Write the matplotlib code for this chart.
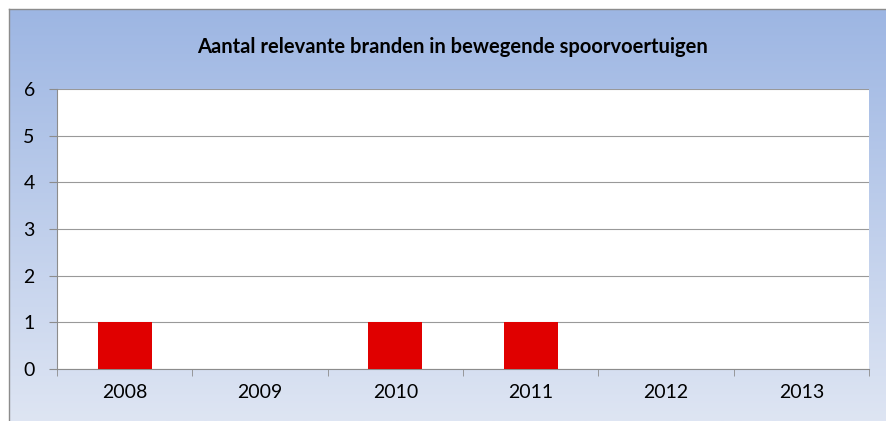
import matplotlib.pyplot as plt
import numpy as np

years = ['2008', '2009', '2010', '2011', '2012', '2013']
fires = [1, 0, 1, 1, 0, 0]
y_ticks = [0, 1, 2, 3, 4, 5, 6]

plt.rcParams['font.family'] = ['Lato', 'DejaVu Sans']

W, H = 886, 421
fig = plt.figure(figsize=(W / 100, H / 100), dpi=100, facecolor='white')

# chart area with a blue vertical gradient
bg = fig.add_axes([9 / W, 0, 1 - 9 / W, (H - 9) / H])
top = np.array([157, 182, 227]) / 255
bottom = np.array([222, 229, 243]) / 255
t = np.linspace(0, 1, 256)[:, None]
grad = (top * (1 - t) + bottom * t)[:, None, :]
bg.imshow(grad, aspect='auto', extent=[0, 1, 0, 1])
bg.set_xlim(0, 1)
bg.set_ylim(0, 1)
bg.set_xticks([])
bg.set_yticks([])
for side in ['right', 'bottom']:
    bg.spines[side].set_visible(False)
for side in ['left', 'top']:
    bg.spines[side].set_color('#8c8c8c')
    bg.spines[side].set_linewidth(1)

fig.text(452 / W, 1 - 47 / H, 'Aantal relevante branden in bewegende spoorvoertuigen',
         ha='center', va='center', fontsize=14.5, fontweight='bold', color='black')

# plot area
x0, x1, y0, y1 = 57, 869, 89, 369
ax = fig.add_axes([x0 / W, 1 - y1 / H, (x1 - x0) / W, (y1 - y0) / H])
ax.set_facecolor('white')
x = np.arange(len(years))
ax.bar(x, fires, width=0.4, color='#e00000', zorder=3)
ax.set_xlim(-0.5, len(years) - 0.5)
ax.set_ylim(0, 6)
ax.set_yticks(y_ticks)
ax.set_xticks(x)
ax.set_xticklabels(years)
ax.set_xticks(np.arange(-0.5, len(years)), minor=True)
ax.tick_params(axis='x', which='major', length=0, pad=11, labelsize=14)
ax.tick_params(axis='x', which='minor', length=5, color='#8c8c8c', direction='out')
ax.tick_params(axis='y', length=6, color='#8c8c8c', pad=10, labelsize=14)
ax.grid(axis='y', color='#999999', linewidth=0.8, zorder=0)
for side in ['right', 'top']:
    ax.spines[side].set_visible(False)
ax.spines['left'].set_color('#8c8c8c')
ax.spines['bottom'].set_color('#8c8c8c')

fig.savefig('out.png', dpi=100)
